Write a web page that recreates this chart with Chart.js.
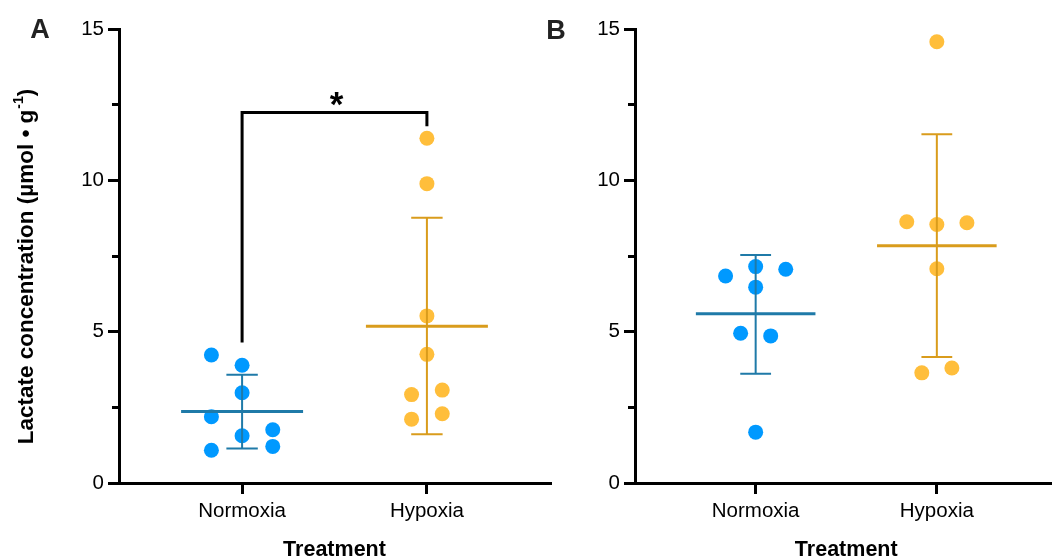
<!DOCTYPE html>
<html>
<head>
<meta charset="utf-8">
<script src="https://cdn.jsdelivr.net/npm/chart.js@4.4.0/dist/chart.umd.min.js"></script>
<style>
  html, body { margin: 0; padding: 0; background: #fff; overflow: hidden; }
  #wrap { position: relative; width: 1052px; height: 558px; overflow: hidden; }
  #chartA { position: absolute; left: 0; top: 0; }
  #chartB { position: absolute; left: 530px; top: 0; }
</style>
</head>
<body>
<div id="wrap">
  <canvas id="chartA" width="560" height="558"></canvas>
  <canvas id="chartB" width="535" height="558"></canvas>
</div>
<script>
'use strict'

// data
const categories = ['Normoxia', 'Hypoxia'];
const yTicks = [0, 5, 10, 15];
const yMinorTicks = [2.5, 7.5, 12.5];

// A
const normoxiaA = [4.23, 3.89, 2.98, 2.19, 1.56, 1.76, 1.08, 1.21];
const normoxiaAColumn = [-2, 0, 0, -2, 0, 2, -2, 2];
const hypoxiaA = [11.39, 9.89, 5.52, 4.25, 2.92, 3.07, 2.11, 2.29];
const hypoxiaAColumn = [0, 0, 0, 0, -1, 1, -1, 1];
const meanA = [2.36, 5.18];
const sdLowA = [1.14, 1.61];
const sdHighA = [3.58, 8.76];
const bracketA = [4.64, 12.24, 11.79]; // left end, top, right end
const bracketLabelA = '*';

// B
const normoxiaB = [6.84, 7.15, 7.06, 6.47, 4.95, 4.86, 1.68];
const normoxiaBColumn = [-2, 0, 2, 0, -1, 1, 0];
const hypoxiaB = [14.58, 8.63, 8.54, 8.60, 7.08, 3.64, 3.80];
const hypoxiaBColumn = [0, -2, 0, 2, 0, -1, 1];
const meanB = [5.59, 7.84];
const sdLowB = [3.61, 4.16];
const sdHighB = [7.53, 11.52];

// styles
const pointColors = ['#0099ff', '#ffbe3b'];
const lineColors = ['#1f7aa8', '#d99c1c'];
const jitterStep = 0.083;
const FONT = '"Liberation Sans", Arial, Helvetica, sans-serif';

Chart.defaults.font.family = FONT;
Chart.defaults.color = '#000';

const toPoints = (values, columns, cat) =>
  values.map((v, i) => ({ x: cat + columns[i] * jitterStep, y: v }));

const panelPlugin = {
  id: 'panel',
  afterDatasetsDraw(chart, args, opts) {
    const { ctx, chartArea, scales: { x, y } } = chart;
    ctx.save();

    // minor ticks
    ctx.strokeStyle = '#000';
    ctx.lineWidth = 3;
    yMinorTicks.forEach(v => {
      const py = Math.round(y.getPixelForValue(v) - 1.5) + 1.5;
      ctx.beginPath();
      ctx.moveTo(chartArea.left - 7, py);
      ctx.lineTo(chartArea.left, py);
      ctx.stroke();
    });

    // mean and SD
    categories.forEach((c, i) => {
      const cat = i + 1;
      const cx = x.getPixelForValue(cat);
      ctx.strokeStyle = lineColors[i];
      ctx.lineWidth = 2;
      ctx.beginPath();
      ctx.moveTo(cx, y.getPixelForValue(opts.low[i]));
      ctx.lineTo(cx, y.getPixelForValue(opts.high[i]));
      [opts.low[i], opts.high[i]].forEach(v => {
        const py = y.getPixelForValue(v);
        ctx.moveTo(x.getPixelForValue(cat - 0.085), py);
        ctx.lineTo(x.getPixelForValue(cat + 0.085), py);
      });
      ctx.stroke();
      ctx.lineWidth = 3;
      ctx.beginPath();
      const my = y.getPixelForValue(opts.mean[i]);
      ctx.moveTo(x.getPixelForValue(cat - 0.33), my);
      ctx.lineTo(x.getPixelForValue(cat + 0.33), my);
      ctx.stroke();
    });

    // significance bracket
    if (opts.bracket) {
      const [l, t, r] = opts.bracket;
      const x1 = x.getPixelForValue(1), x2 = x.getPixelForValue(2);
      const ty = y.getPixelForValue(t);
      ctx.strokeStyle = '#000';
      ctx.lineWidth = 3;
      ctx.lineJoin = 'miter';
      ctx.beginPath();
      ctx.moveTo(x1, y.getPixelForValue(l));
      ctx.lineTo(x1, ty);
      ctx.lineTo(x2, ty);
      ctx.lineTo(x2, y.getPixelForValue(r));
      ctx.stroke();
      ctx.fillStyle = '#000';
      ctx.font = 'bold 35px ' + FONT;
      ctx.textAlign = 'center';
      ctx.textBaseline = 'alphabetic';
      ctx.fillText(opts.bracketLabel, (x1 + x2) / 2 + 2, ty + 3);
    }

    // panel letter
    ctx.fillStyle = '#222';
    ctx.font = 'bold 27px ' + FONT;
    ctx.textAlign = 'center';
    ctx.textBaseline = 'middle';
    ctx.fillText(opts.letter, opts.letterPos[0], opts.letterPos[1]);

    // y title with superscript
    if (opts.yTitle) {
      ctx.translate(opts.yTitlePos[0], opts.yTitlePos[1]);
      ctx.rotate(-Math.PI / 2);
      ctx.fillStyle = '#000';
      ctx.textAlign = 'left';
      ctx.textBaseline = 'middle';
      const big = 'bold 22.5px ' + FONT, small = 'bold 14px ' + FONT;
      ctx.font = big;
      const w1 = ctx.measureText(opts.yTitle[0]).width;
      const w3 = ctx.measureText(opts.yTitle[2]).width;
      ctx.font = small;
      const w2 = ctx.measureText(opts.yTitle[1]).width;
      let sx = -(w1 + w2 + w3) / 2;
      ctx.font = big;
      ctx.fillText(opts.yTitle[0], sx, 0);
      ctx.font = small;
      ctx.fillText(opts.yTitle[1], sx + w1 + 1, -8);
      ctx.font = big;
      ctx.fillText(opts.yTitle[2], sx + w1 + w2 + 1, 0);
    }
    ctx.restore();
  }
};

function makeChart(id, normoxia, normoxiaCol, hypoxia, hypoxiaCol, panel, axisLeft, padRight) {
  return new Chart(document.getElementById(id), {
    type: 'scatter',
    data: {
      datasets: [{
        label: categories[0],
        data: toPoints(normoxia, normoxiaCol, 1),
        backgroundColor: pointColors[0],
        pointRadius: 7.5,
        pointBorderWidth: 0,
      }, {
        label: categories[1],
        data: toPoints(hypoxia, hypoxiaCol, 2),
        backgroundColor: pointColors[1],
        pointRadius: 7.5,
        pointBorderWidth: 0,
      }]
    },
    options: {
      responsive: false,
      animation: false,
      layout: { padding: { top: 29, right: padRight, bottom: 0, left: 0 } },
      scales: {
        x: {
          type: 'linear',
          min: 0.334,
          max: 2.666,
          afterBuildTicks: axis => { axis.ticks = [{ value: 1 }, { value: 2 }]; },
          afterFit: axis => { axis.height = 75; },
          grid: { display: true, drawOnChartArea: false, drawTicks: true, tickLength: 11, color: '#000', lineWidth: 3 },
          border: { display: true, color: '#000', width: 3 },
          ticks: {
            autoSkip: false,
            maxRotation: 0,
            padding: 5,
            font: { size: 20.5 },
            color: '#000',
            callback: value => categories[Math.round(value) - 1] || ''
          },
          title: {
            display: true,
            text: 'Treatment',
            font: { size: 21.5, weight: 'bold', lineHeight: 0.75 },
            padding: { top: 0, bottom: 0 },
            color: '#000'
          }
        },
        y: {
          min: 0,
          max: 15,
          afterBuildTicks: axis => { axis.ticks = yTicks.map(v => ({ value: v })); },
          afterFit: axis => { axis.width = axisLeft; },
          grid: { display: true, drawOnChartArea: false, drawTicks: true, tickLength: 11, color: '#000', lineWidth: 3 },
          border: { display: true, color: '#000', width: 3 },
          ticks: { padding: 4, font: { size: 20.5 }, color: '#000' }
        }
      },
      plugins: {
        legend: { display: false },
        tooltip: { enabled: false },
        panel: panel
      }
    },
    plugins: [panelPlugin]
  });
}

makeChart('chartA', normoxiaA, normoxiaAColumn, hypoxiaA, hypoxiaAColumn, {
  mean: meanA, low: sdLowA, high: sdHighA,
  bracket: bracketA, bracketLabel: bracketLabelA,
  letter: 'A', letterPos: [40, 31],
  yTitle: ['Lactate concentration (µmol • g', '-1', ')'], yTitlePos: [27, 267]
}, 119, 10);

makeChart('chartB', normoxiaB, normoxiaBColumn, hypoxiaB, hypoxiaBColumn, {
  mean: meanB, low: sdLowB, high: sdHighB,
  letter: 'B', letterPos: [26, 32]
}, 105, 0);
</script>
</body>
</html>
